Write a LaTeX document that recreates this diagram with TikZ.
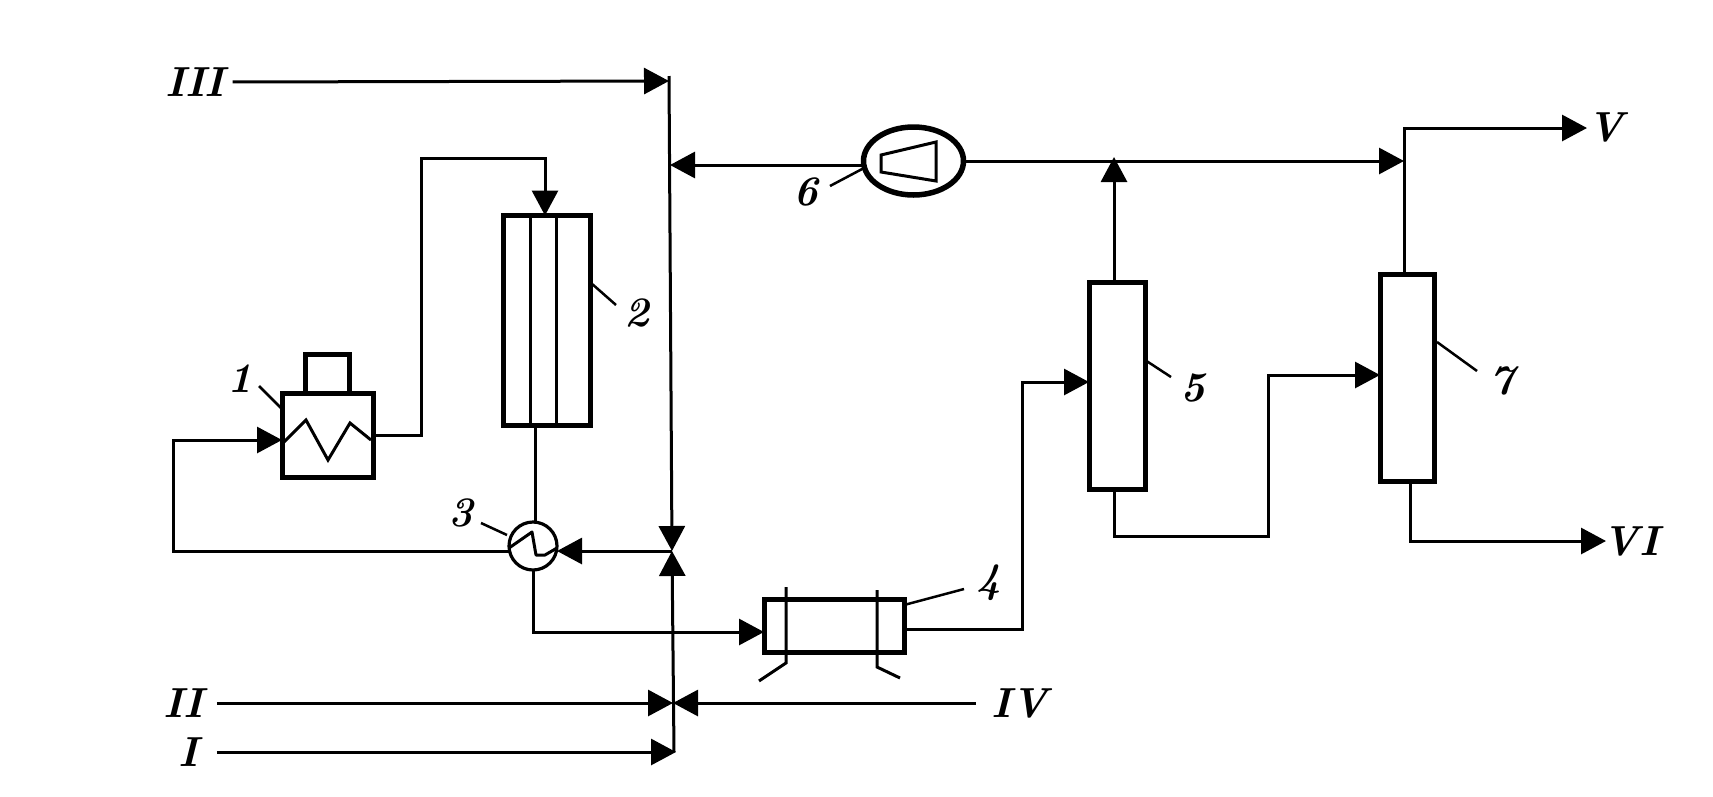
\documentclass[tikz,border=0pt]{standalone}
\usetikzlibrary{arrows.meta,shapes.geometric}
\tikzset{
  x=1pt,y=-1pt,
  pipe/.style={line width=3pt,line join=miter},
  flow/.style={pipe,-{Triangle[length=25pt,width=26pt]}},
  thick box/.style={draw,line width=5pt,inner sep=0pt,outer sep=0pt},
  fine/.style={line width=3pt},
  lead/.style={line width=2.5pt},
  tag/.style={font=\fontsize{42}{42}\selectfont\bfseries\itshape,inner sep=0pt,outer sep=0pt},
}
\begin{document}
\begin{tikzpicture}
\useasboundingbox (0,0) rectangle (1713,796);
% apparatus
\node[thick box,minimum width=91pt,minimum height=84pt] (f1) at (327.5,435) {};
\node[thick box,minimum width=44pt,minimum height=39pt,anchor=south] (f1t) at (f1.north) {};
\node[thick box,minimum width=87pt,minimum height=210pt] (r2) at (547,320.5) {};
\node[draw,circle,line width=3.2pt,minimum size=48pt,inner sep=0pt,outer sep=0pt] (h3) at (533,546) {};
\node[thick box,minimum width=140pt,minimum height=53pt] (e4) at (834,625.5) {};
\node[thick box,minimum width=56pt,minimum height=207pt] (c5) at (1117,385.5) {};
\node[draw,ellipse,line width=5.5pt,minimum width=100pt,minimum height=68pt,inner sep=0pt,outer sep=0pt] (k6) at (913.5,161) {};
\node[thick box,minimum width=54pt,minimum height=207pt] (c7) at (1407,377.5) {};
% inner details
\draw[fine,line join=miter] (284,442)--(306,420)--(328,460)--(350,423)--(371,440);
\draw[fine] (530,216)--(530,425) (556,216)--(556,425);
\draw[fine,line join=round] (509,548)--(532,532)--(536,555)--(545,555)--(557,548);
\draw[fine] (881,155)--(936,142)--(936,181)--(881,172)--cycle;
\draw[fine] (786,587)--(786,663)--(759,681);
\draw[fine] (877,590)--(877,667)--(900,678);
% collector
\coordinate (ctop) at (669,76);
\coordinate (cbot) at (674,752);
\coordinate (cj) at (672,551);
\coordinate (c3) at (669,81);
\coordinate (c6) at (670,165);
\coordinate (c2) at (673,703);
\coordinate (c1) at (676,752);
\draw[flow] (ctop)--(cj);
\draw[flow] (cbot)--(cj);
% stream labels
\node[tag] (tIII) at (195,82) {III};
\node[tag] (tII) at (183,703) {II};
\node[tag] (tI) at (188,752) {I};
\node[tag] (tIV) at (1020,703) {IV};
\node[tag] (tV) at (1606,127) {V};
\node[tag] (tVI) at (1631,541) {VI};
\draw[flow,shorten <=8pt] (tIII.east)--(c3);
\draw[flow,shorten <=14pt] (tII.east)--(c2);
\draw[flow,shorten <=19pt] (tI.east)--(c1);
\draw[flow,shorten <=16pt] (tIV.west)--(c2);
% pipes
\coordinate (a1) at (173,440);
\coordinate (a2) at (173,551);
\draw[flow] (h3.west |- a2)--(a2)--(a1)--(f1.west |- a1);
\coordinate (b1) at (421,435);
\coordinate (b2) at (421,158);
\coordinate (b3) at (545,158);
\draw[flow] (f1.east)--(b1)--(b2)--(b3)--(b3 |- r2.north);
\coordinate (r2out) at (535,425);
\draw[pipe] (r2out)--(r2out |- h3.north);
\draw[flow] (cj)--(h3.east |- cj);
\coordinate (d1) at (533,632);
\draw[flow] (h3.south)--(d1)--(e4.west |- d1);
\coordinate (g1) at (1022,629);
\coordinate (g2) at (1022,382);
\draw[flow] (e4.east |- g1)--(g1)--(g2)--(c5.west |- g2);
\coordinate (m1) at (1114,157);
\draw[flow] (c5.north -| m1)--(m1);
\coordinate (n1) at (1404,161);
\draw[flow] (k6.east |- n1)--(n1);
\draw[flow] (k6.west |- c6)--(c6);
\coordinate (p1) at (1404,128);
\coordinate (p2) at (1587,128);
\draw[flow] (c7.north -| p1)--(p1)--(p2);
\coordinate (q1) at (1114,536);
\coordinate (q2) at (1268,536);
\coordinate (q3) at (1268,375);
\draw[flow] (c5.south -| q1)--(q1)--(q2)--(q3)--(c7.west |- q3);
\coordinate (s1) at (1410,541);
\coordinate (s2) at (1606,541);
\draw[flow] (c7.south -| s1)--(s1)--(s2);
% item labels and leaders
\node[tag] (n1t) at (240,379) {1};
\node[tag] (n2t) at (637,313) {2};
\node[tag] (n3t) at (461,513) {3};
\node[tag] (n4t) at (989,583) {4};
\node[tag] (n5t) at (1193,388) {5};
\node[tag] (n6t) at (806,192) {6};
\node[tag] (n7t) at (1502,381) {7};
\draw[lead] (259,386)--(281,408);
\draw[lead] (591,283)--(616,305);
\draw[lead] (481,523)--(507,535);
\draw[lead] (904,605)--(964,589);
\draw[lead] (1145,360)--(1171,377);
\draw[lead] (830,186)--(864,168);
\draw[lead] (1437,342)--(1477,371);
\end{tikzpicture}
\end{document}
